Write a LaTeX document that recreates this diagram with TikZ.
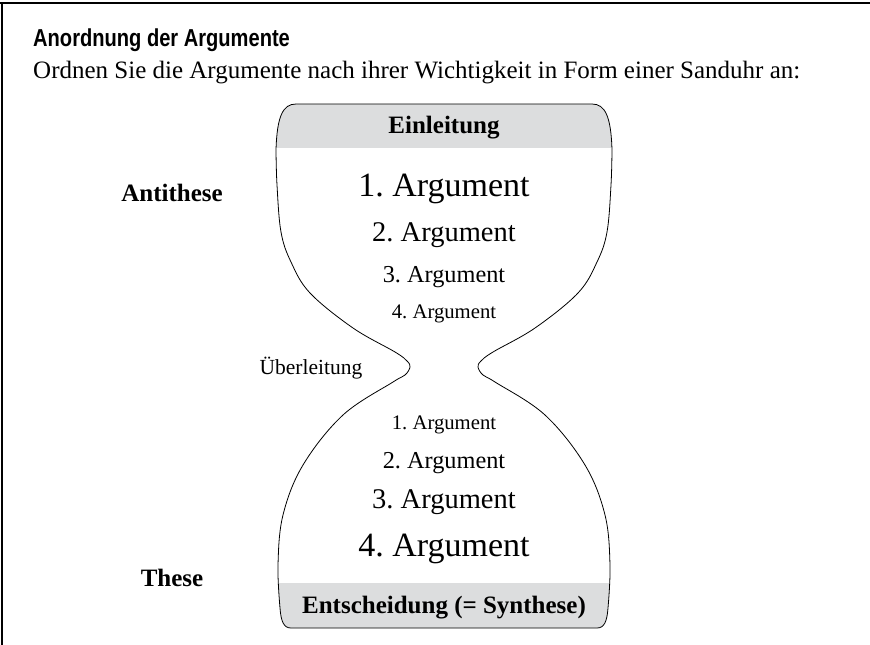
\documentclass[tikz,border=0pt]{standalone}
\usepackage{fontspec}
\setmainfont{Liberation Serif}
\newfontfamily\titelfont[FakeStretch=0.82]{Liberation Sans}
\usetikzlibrary{positioning}
\definecolor{bandgrau}{RGB}{220,221,222}
% outline of the hourglass
\newcommand{\sanduhrweg}{(296,104) -- (592,104) .. controls (605,104) and (611,116) .. (612,150)
  -- plot[smooth,tension=0.6] coordinates {(612,150) (611,185) (607,232) (597,262) (578,293) (535,328) (493,352) (481,361) (478,367) (483,375) (495,382) (545,415) (585,465) (605,515) (610,565) (608,608)}
  .. controls (607,622) and (604,628) .. (597,628) -- (291,628) .. controls (284,628) and (281,622) .. (280,608)
  -- plot[smooth,tension=0.6] coordinates {(280,608) (278,565) (283,515) (303,465) (343,415) (393,382) (405,375) (410,367) (407,361) (395,352) (353,328) (310,293) (291,262) (281,232) (277,185) (276,150)}
  .. controls (277,116) and (283,104) .. (296,104) -- cycle}

\begin{document}
\frenchspacing
\begin{tikzpicture}[x=1pt,y=-1pt,
    txt/.style={inner sep=0pt},
    fett/.style={inner sep=0pt, font=\bfseries\fontsize{25}{30}\selectfont},
    gr1/.style={inner sep=0pt, font=\fontsize{34}{40}\selectfont},
    gr2/.style={inner sep=0pt, font=\fontsize{28.5}{34}\selectfont},
    gr3/.style={inner sep=0pt, font=\fontsize{24.3}{29}\selectfont},
    gr4/.style={inner sep=0pt, font=\fontsize{20.7}{25}\selectfont}]
    \useasboundingbox (0,0) rectangle (870,645);
    \draw[line width=1.2pt] (0,3) -- (870,3);
    \draw[line width=1.2pt] (2,3) -- (2,645);
    \node[txt, anchor=base west, font=\titelfont\bfseries\fontsize{24.5}{29}\selectfont] (titel) at (33,46) {Anordnung der Argumente};
    \node[txt, anchor=base west, font=\fontsize{25}{30}\selectfont] (auftrag) at (33,78) {Ordnen Sie die Argumente nach ihrer Wichtigkeit in Form einer Sanduhr an:};
    % grey bands
    \begin{scope}
        \clip \sanduhrweg;
        \fill[bandgrau] (260,95) rectangle (630,148);
        \fill[bandgrau] (260,583) rectangle (630,640);
    \end{scope}
    \draw[line width=0.8pt] \sanduhrweg;
    \node[fett] (einl) at (444,128) {Einleitung};
    \node[gr1] (o1) at (444,189) {1. Argument};
    \node[gr2] (o2) at (444,235) {2. Argument};
    \node[gr3] (o3) at (444,277) {3. Argument};
    \node[gr4] (o4) at (444,314) {4. Argument};
    \node[txt, font=\fontsize{21.5}{26}\selectfont] (ueber) at (311,368) {Überleitung};
    \node[gr4] (u1) at (444,425) {1. Argument};
    \node[gr3] (u2) at (444,463) {2. Argument};
    \node[gr2] (u3) at (444,502) {3. Argument};
    \node[gr1] (u4) at (444,549) {4. Argument};
    \node[fett] (anti) at (172,193) {Antithese};
    \node[fett] (these) at (172,578) {These};
    \node[fett] (entsch) at (444,608) {Entscheidung (= Synthese)};
\end{tikzpicture}
\end{document}
